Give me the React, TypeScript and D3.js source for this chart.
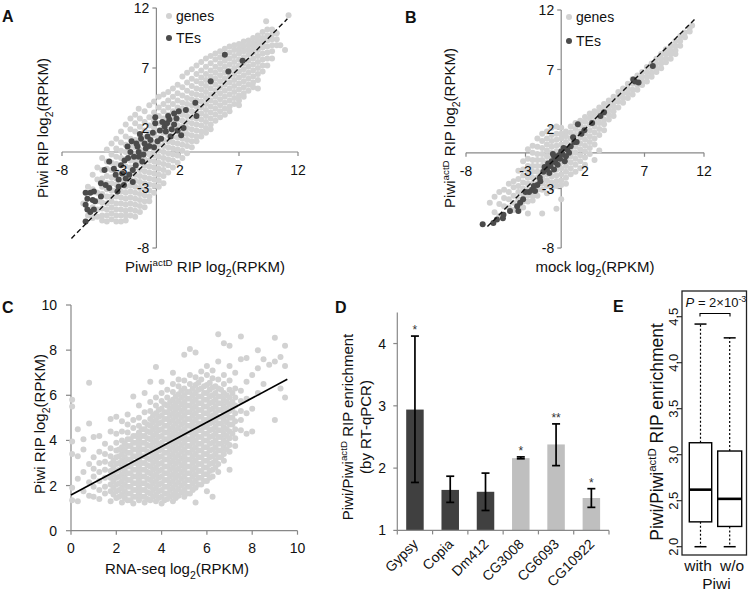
import React from "react";
import * as d3 from "d3";

const FONT = "'Liberation Sans', Arial, sans-serif";
const GENE = "#d2d2d2";
const TE = "#4b4b4b";
const AXIS = "#888888";
const R = 3.0;

type Col = [number, number[]];
type Pt = [number, number];

// ---------- Panel A: Piwi RIP vs Piwi(actD) RIP ----------
const scatterTicks = [-8, -3, 2, 7, 12];
const genesA: Col[] = [
  [-6.2, [-4.3]],
  [-5.8, [-2.9, -5.3]],
  [-5.4, [-1.9, -3.1, -4.6, -5.5]],
  [-5.0, [-1.3, -2.3, -3.4, -4.1, -4.8, -5.4]],
  [-4.6, [-0.5, -1.5, -2.2, -2.9, -3.5, -4.2, -4.7, -5.3, -5.7]],
  [-4.2, [0.2, -0.8, -1.4, -2.0, -2.6, -3.1, -3.7, -4.3, -4.8, -5.3, -5.8]],
  [-3.8, [0.7, -0.2, -0.9, -1.5, -2.1, -2.6, -3.2, -3.7, -4.1, -4.6, -5.1, -5.6]],
  [-3.4, [1.1, 0.3, -0.4, -1.0, -1.6, -2.2, -2.7, -3.2, -3.7, -4.3, -4.8, -5.3, -5.8]],
  [-3.0, [1.7, 0.8, 0.1, -0.5, -1.1, -1.7, -2.3, -2.8, -3.3, -3.8, -4.3, -4.8, -5.3, -5.8]],
  [-2.6, [2.3, 1.3, 0.6, 0.0, -0.6, -1.2, -1.8, -2.4, -2.9, -3.4, -3.9, -4.4, -4.9, -5.3, -5.7]],
  [-2.2, [2.8, 1.9, 1.1, 0.5, -0.1, -0.7, -1.3, -1.8, -2.3, -2.8, -3.3, -3.8, -4.3, -4.8, -5.3]],
  [-1.8, [3.1, 2.4, 1.7, 1.0, 0.4, -0.2, -0.8, -1.3, -1.9, -2.4, -2.9, -3.4, -3.9, -4.4, -4.9, -5.4]],
  [-1.5, [3.6]],
  [-1.4, [2.8, 2.1, 1.4, 0.8, 0.2, -0.4, -0.9, -1.5, -2.0, -2.5, -3.0, -3.5, -4.0, -4.5, -5.0]],
  [-1.0, [3.4, 2.5, 1.8, 1.2, 0.6, 0.0, -0.6, -1.1, -1.6, -2.1, -2.6, -3.1, -3.6, -4.1, -4.6]],
  [-0.6, [3.9, 2.9, 2.2, 1.6, 1.0, 0.4, -0.2, -0.7, -1.2, -1.7, -2.2, -2.7, -3.2, -3.7, -4.1]],
  [-0.2, [4.2, 3.3, 2.6, 2.0, 1.4, 0.8, 0.2, -0.3, -0.8, -1.3, -1.8, -2.3, -2.8, -3.4]],
  [0.2, [4.6, 3.7, 3.0, 2.4, 1.8, 1.2, 0.6, 0.1, -0.4, -0.9, -1.4, -1.9, -2.4, -2.9]],
  [0.6, [4.8, 4.0, 3.4, 2.8, 2.2, 1.6, 1.0, 0.5, 0.0, -0.5, -1.0, -1.5, -2.0, -2.6]],
  [1.0, [5.0, 4.3, 3.7, 3.1, 2.5, 1.9, 1.4, 0.9, 0.4, -0.1, -0.6, -1.1, -1.7]],
  [1.4, [5.3, 4.6, 4.0, 3.4, 2.8, 2.3, 1.8, 1.3, 0.8, 0.3, -0.2, -0.7, -1.3]],
  [1.8, [5.6, 4.9, 4.3, 3.7, 3.2, 2.7, 2.2, 1.7, 1.2, 0.7, 0.2, -0.3, -0.9]],
  [2.2, [6.3, 5.4, 4.7, 4.1, 3.6, 3.1, 2.6, 2.1, 1.6, 1.1, 0.6, 0.1, -0.5]],
  [2.6, [6.6, 5.8, 5.1, 4.5, 4.0, 3.5, 3.0, 2.5, 2.0, 1.5, 1.0, 0.5, -0.1]],
  [3.0, [6.9, 6.1, 5.5, 4.9, 4.4, 3.9, 3.4, 2.9, 2.4, 1.9, 1.4, 0.9, 0.4]],
  [3.4, [7.2, 6.5, 5.9, 5.3, 4.8, 4.3, 3.8, 3.3, 2.8, 2.3, 1.8, 1.3, 0.9]],
  [3.8, [7.5, 6.8, 6.2, 5.7, 5.2, 4.7, 4.2, 3.7, 3.2, 2.7, 2.2, 1.7, 1.3]],
  [4.2, [7.8, 7.1, 6.5, 6.0, 5.5, 5.0, 4.5, 4.0, 3.5, 3.0, 2.5, 2.0, 1.6]],
  [4.6, [8.0, 7.4, 6.8, 6.3, 5.8, 5.3, 4.8, 4.3, 3.8, 3.3, 2.8, 2.3, 1.9]],
  [5.0, [8.2, 7.7, 7.1, 6.6, 6.1, 5.6, 5.1, 4.6, 4.1, 3.6, 3.1, 2.6]],
  [5.4, [8.4, 7.9, 7.4, 6.9, 6.4, 5.9, 5.4, 4.9, 4.4, 3.9, 3.4, 2.9]],
  [5.8, [8.6, 8.1, 7.6, 7.1, 6.6, 6.1, 5.6, 5.1, 4.6, 4.1, 3.6, 3.1]],
  [6.2, [8.8, 8.3, 7.8, 7.3, 6.8, 6.3, 5.8, 5.3, 4.8, 4.3, 3.8, 3.4]],
  [6.6, [8.9, 8.5, 8.0, 7.5, 7.0, 6.5, 6.0, 5.5, 5.0, 4.5, 4.0]],
  [7.0, [9.0, 8.6, 8.2, 7.7, 7.2, 6.7, 6.2, 5.7, 5.2, 4.7, 4.3, 3.9]],
  [7.4, [9.2, 8.8, 8.4, 7.9, 7.4, 6.9, 6.4, 5.9, 5.4, 4.9, 4.6]],
  [7.8, [9.3, 8.9, 8.5, 8.1, 7.6, 7.1, 6.6, 6.1, 5.6, 5.1]],
  [8.2, [9.5, 9.1, 8.7, 8.3, 7.8, 7.3, 6.8, 6.3, 5.8, 5.4]],
  [8.6, [9.7, 9.3, 8.9, 8.5, 8.0, 7.5, 7.0, 6.5, 6.0, 5.3]],
  [9.0, [10.0, 9.5, 9.1, 8.7, 8.2, 7.7, 7.2, 6.7]],
  [9.3, [10.9]],
  [9.4, [10.2, 9.7, 9.3, 8.8, 8.3, 7.8, 7.2]],
  [9.8, [10.2, 9.8, 9.4, 8.9, 8.4, 7.8]],
  [10.2, [9.9, 9.4, 8.9]],
  [10.5, [8.9]],
  [10.9, [8.5]],
  [11.2, [11.4]],
];
const tesA: Pt[] = [
  [5.8, 8.1], [7.3, 7.6], [6.1, 6.7], [4.6, 5.9], [3.3, 4.1], [2.5, 3.5], [1.9, 3.4], [3.4, 3.0],
  [1.5, 3.2], [1.7, 2.8], [1.0, 3.0], [1.1, 2.7], [-0.1, 2.9], [-0.1, 2.4], [0.7, 2.1], [0.8, 1.7],
  [1.5, 2.3], [1.8, 1.8], [2.1, 1.4], [1.2, 1.3], [0.4, 1.1], [0.1, 0.9], [-0.75, 1.3], [-0.5, 1.0],
  [-1.0, 0.7], [-0.9, 0.3], [-1.7, 0.7], [-1.6, 0.45], [-1.5, 0.0], [-2.45, 0.45], [-2.2, 0.0],
  [-1.9, -0.4], [-1.5, -0.4], [-1.2, -0.8], [-1.75, -1.1], [-2.0, -1.5], [-2.3, -1.9], [-2.7, -0.7],
  [-3.0, -1.1], [-2.9, -1.8], [-2.6, -2.2], [-3.2, -2.3], [-3.45, -1.9], [-2.75, -2.75], [-3.2, -2.9],
  [-3.3, -3.3], [-4.4, -1.5], [-4.7, -2.6], [-4.3, -2.75], [-4.0, -3.0], [-4.0, -0.8], [-5.6, -3.4],
  [-5.85, -3.9], [-5.3, -3.3], [-5.4, -4.0], [-6.0, -4.4], [-5.85, -4.8], [-5.6, -5.0], [-5.3, -4.8],
  [-6.0, -5.8], [-6.0, -3.4], [-5.2, -4.1], [-4.7, -3.7], [-0.3, 1.6], [0.3, 1.8], [0.5, 2.5],
  [-0.6, 0.5], [-1.3, 1.1], [-2.1, 0.9], [-1.1, -0.2], [-2.4, -0.5], [-0.2, 0.4], [0.9, 2.4],
  [1.3, 1.9], [2.3, 2.0], [-3.6, -1.4], [-2.0, -2.5], [-1.4, 1.5],
];

// ---------- Panel B: Piwi(actD) RIP vs mock ----------
const genesB: Col[] = [
  [-6.0, [-4.2]],
  [-5.6, [-3.7, -5.0]],
  [-5.2, [-3.3, -4.3, -5.3]],
  [-4.8, [-3.1, -3.8, -4.5]],
  [-4.4, [-2.6, -3.3, -3.9, -4.6]],
  [-4.0, [-2.4, -2.9, -3.6, -4.2, -4.8]],
  [-3.6, [-1.5, -2.2, -2.8, -3.3, -3.9, -4.4]],
  [-3.2, [-0.7, -1.4, -1.9, -2.5, -3.0, -3.5, -4.1, -4.6]],
  [-2.8, [0.3, -0.5, -1.1, -1.6, -2.1, -2.6, -3.1, -3.6, -4.1, -5.1]],
  [-2.4, [0.6, 0.0, -0.6, -1.1, -1.6, -2.1, -2.6, -3.1, -3.6, -4.0]],
  [-2.0, [1.2, 0.5, -0.1, -0.6, -1.1, -1.6, -2.1, -2.6, -3.1, -3.6]],
  [-1.6, [1.6, 1.0, 0.4, -0.1, -0.6, -1.1, -1.6, -2.1, -2.6, -3.1, -5.1]],
  [-1.2, [1.8, 1.2, 0.7, 0.2, -0.3, -0.8, -1.3, -1.8, -2.3, -2.8, -3.4]],
  [-0.8, [2.1, 1.5, 1.0, 0.5, 0.0, -0.5, -1.0, -1.5, -2.0, -2.5, -3.0]],
  [-0.4, [2.2, 1.6, 1.1, 0.6, 0.1, -0.4, -0.9, -1.4, -1.9, -2.4, -2.8, -4.7]],
  [0.0, [2.1, 1.6, 1.2, 0.7, 0.2, -0.3, -0.8, -1.3, -1.8, -2.3, -2.7, -3.9]],
  [0.4, [1.8, 1.4, 0.9, 0.4, -0.1, -0.6, -1.1, -1.6, -2.1, -2.6]],
  [0.8, [2.2, 1.7, 1.2, 0.7, 0.2, -0.3, -0.8, -1.3, -1.8]],
  [1.2, [2.5, 2.0, 1.5, 1.0, 0.5, 0.0, -0.5, -1.0, -1.6]],
  [1.6, [2.7, 2.3, 1.8, 1.3, 0.8, 0.3, -0.2, -0.7, -1.3]],
  [2.0, [3.0, 2.6, 2.1, 1.6, 1.1, 0.6, 0.1, -0.4, -1.0]],
  [2.4, [3.3, 2.9, 2.4, 1.9, 1.4, 0.9, 0.4, -0.1]],
  [2.8, [3.5, 3.1, 2.6, 2.2, 1.7, 1.2, 0.7, -0.6]],
  [3.2, [3.8, 3.4, 2.9, 2.5, 2.0, 1.5, 0.2]],
  [3.6, [4.1, 3.7, 3.3, 2.8, 2.4, 1.9]],
  [4.0, [4.4, 4.0, 3.6, 3.2, 2.8]],
  [4.4, [4.7, 4.3, 3.9, 3.5, 3.1]],
  [4.8, [5.1, 4.7, 4.3, 3.8]],
  [5.2, [5.4, 5.0, 4.6, 4.2]],
  [5.6, [5.8, 5.4, 5.0, 4.6]],
  [6.0, [6.2, 5.8, 5.3, 4.9]],
  [6.4, [6.5, 6.1, 5.7, 5.3]],
  [6.8, [6.8, 6.4, 6.0, 5.7]],
  [7.2, [7.2, 6.8, 6.4, 6.0]],
  [7.6, [7.5, 7.1, 6.7, 6.4]],
  [8.0, [7.9, 7.5, 7.1, 6.8]],
  [8.4, [8.3, 7.9, 7.5, 7.1]],
  [8.8, [8.7, 8.3, 7.9, 7.6]],
  [9.2, [9.0, 8.6, 8.3, 7.9]],
  [9.6, [9.4, 9.0, 8.6, 8.3]],
  [10.0, [9.8, 9.4, 9.0]],
  [10.4, [10.1, 9.7]],
  [10.8, [10.5, 10.2]],
  [11.0, [10.7]],
];
const tesB: Pt[] = [
  [7.7, 7.3], [6.2, 6.0], [6.5, 5.9], [6.06, 6.16], [3.6, 3.4], [3.3, 3.1], [1.4, 2.4], [1.95, 1.9],
  [1.7, 1.6], [0.8, 0.55], [0.5, 0.3], [0.66, 0.0], [0.4, -0.3], [0.2, 0.4], [0.0, 0.1], [-0.2, -0.2],
  [-0.4, -0.5], [-0.6, -0.3], [-0.5, -0.8], [-0.8, -0.7], [-0.9, -1.1], [-1.1, -0.9], [-1.2, -1.4],
  [-1.4, -1.2], [-0.3, -1.0], [-1.0, -1.7], [-1.5, -1.6], [1.1, 0.9], [0.3, -0.7], [-0.1, -0.5],
  [1.0, 1.3], [1.3, 0.9], [-1.75, -2.4], [-2.0, -2.7], [-2.3, -2.8], [-2.45, -3.1], [-2.2, -3.2],
  [-1.8, -2.1], [-3.2, -3.9], [-3.45, -4.2], [-3.7, -4.5], [-3.6, -4.9], [-4.3, -4.9], [-4.85, -5.2],
  [-4.9, -5.5], [-5.4, -5.6], [-5.7, -5.9], [-6.6, -6.0], [-2.7, -3.3], [-3.0, -3.3], [-0.6, -1.4],
  [2.6, 2.5], [0.1, -0.1], [-0.7, -0.1],
];

// ---------- Panel C: Piwi RIP vs RNA-seq ----------
const cTicks = [0, 2, 4, 6, 8, 10];
const genesC: Col[] = [
  [0.05, [1.35, 1.9, 3.4, 3.95, 5.5, 5.8]],
  [0.3, [1.3, 2.3, 3.3, 4.5]],
  [0.55, [1.75, 2.6, 3.6, 4.05]],
  [0.8, [1.55, 2.15, 2.95, 4.75, 6.55]],
  [1.0, [1.5, 1.95, 2.4, 2.75, 3.25, 4.15]],
  [1.25, [1.4, 1.8, 2.2, 2.6, 3.0, 3.5, 4.2]],
  [1.5, [1.65, 1.95, 2.35, 2.7, 3.05, 3.4, 3.85]],
  [1.75, [1.3, 1.75, 2.05, 2.35, 2.65, 2.95, 3.3, 3.65, 4.4, 4.95]],
  [1.875, [1.6, 1.9, 2.2, 2.5, 2.8, 3.1]],
  [2.0, [1.45, 1.75, 2.05, 2.35, 2.65, 2.95, 3.25, 3.55, 3.9, 4.3, 5.05]],
  [2.125, [1.5, 1.8, 2.1, 2.4, 2.7, 3.0, 3.3, 3.6]],
  [2.25, [1.25, 1.6, 1.9, 2.2, 2.5, 2.8, 3.1, 3.4, 3.7, 4.0, 4.4, 4.85]],
  [2.375, [1.45, 1.75, 2.05, 2.35, 2.65, 2.95, 3.25, 3.55, 3.85]],
  [2.5, [1.35, 1.65, 1.95, 2.25, 2.55, 2.85, 3.15, 3.45, 3.75, 4.05, 4.35, 4.7, 5.15]],
  [2.625, [1.35, 1.65, 1.95, 2.25, 2.55, 2.85, 3.15, 3.45, 3.75, 4.05]],
  [2.75, [1.2, 1.5, 1.8, 2.1, 2.4, 2.7, 3.0, 3.3, 3.6, 3.9, 4.2, 4.55, 4.9, 5.95]],
  [2.875, [1.5, 1.8, 2.1, 2.4, 2.7, 3.0, 3.3, 3.6, 3.9, 4.2]],
  [3.0, [1.35, 1.65, 1.95, 2.25, 2.55, 2.85, 3.15, 3.45, 3.75, 4.05, 4.35, 4.65, 5.0, 5.55]],
  [3.125, [1.5, 1.8, 2.1, 2.4, 2.7, 3.0, 3.3, 3.6, 3.9, 4.2, 4.5]],
  [3.25, [1.25, 1.5, 1.8, 2.1, 2.4, 2.7, 3.0, 3.3, 3.6, 3.9, 4.2, 4.5, 4.8, 5.25, 6.1]],
  [3.375, [1.4, 1.7, 2.0, 2.3, 2.6, 2.9, 3.2, 3.5, 3.8, 4.1, 4.4, 4.7]],
  [3.5, [1.35, 1.65, 1.95, 2.25, 2.55, 2.85, 3.15, 3.45, 3.75, 4.05, 4.35, 4.65, 4.95, 5.3, 5.7, 6.6]],
  [3.625, [1.5, 1.8, 2.1, 2.4, 2.7, 3.0, 3.3, 3.6, 3.9, 4.2, 4.5, 4.8, 5.1]],
  [3.75, [1.3, 1.6, 1.9, 2.2, 2.5, 2.8, 3.1, 3.4, 3.7, 4.0, 4.3, 4.6, 4.9, 5.2, 5.55, 5.9, 7.25]],
  [3.875, [1.45, 1.75, 2.05, 2.35, 2.65, 2.95, 3.25, 3.55, 3.85, 4.15, 4.45, 4.75, 5.05, 5.35]],
  [4.0, [1.2, 1.5, 1.8, 2.1, 2.4, 2.7, 3.0, 3.3, 3.6, 3.9, 4.2, 4.5, 4.8, 5.1, 5.4, 5.75, 6.1, 6.6]],
  [4.125, [1.35, 1.65, 1.95, 2.25, 2.55, 2.85, 3.15, 3.45, 3.75, 4.05, 4.35, 4.65, 4.95, 5.25, 5.6]],
  [4.25, [1.4, 1.65, 1.95, 2.25, 2.55, 2.85, 3.15, 3.45, 3.75, 4.05, 4.35, 4.65, 4.95, 5.25, 5.55, 5.9, 6.25]],
  [4.375, [1.5, 1.8, 2.1, 2.4, 2.7, 3.0, 3.3, 3.6, 3.9, 4.2, 4.5, 4.8, 5.1, 5.4, 5.7]],
  [4.5, [1.3, 1.6, 1.9, 2.2, 2.5, 2.8, 3.1, 3.4, 3.7, 4.0, 4.3, 4.6, 4.9, 5.2, 5.5, 5.8, 6.15, 6.5, 7.0]],
  [4.625, [1.45, 1.75, 2.05, 2.35, 2.65, 2.95, 3.25, 3.55, 3.85, 4.15, 4.45, 4.75, 5.05, 5.35, 5.65, 5.95]],
  [4.75, [1.55, 1.85, 2.15, 2.45, 2.75, 3.05, 3.35, 3.65, 3.95, 4.25, 4.55, 4.85, 5.15, 5.45, 5.75, 6.05, 6.4, 6.7]],
  [4.875, [1.7, 2.0, 2.3, 2.6, 2.9, 3.2, 3.5, 3.8, 4.1, 4.4, 4.7, 5.0, 5.3, 5.6, 5.9, 6.2]],
  [5.0, [1.5, 1.8, 2.1, 2.4, 2.7, 3.0, 3.3, 3.6, 3.9, 4.2, 4.5, 4.8, 5.1, 5.4, 5.7, 6.0, 6.3, 6.65, 7.8]],
  [5.125, [1.65, 1.95, 2.25, 2.55, 2.85, 3.15, 3.45, 3.75, 4.05, 4.35, 4.65, 4.95, 5.25, 5.55, 5.85, 6.15]],
  [5.25, [1.65, 1.95, 2.25, 2.55, 2.85, 3.15, 3.45, 3.75, 4.05, 4.35, 4.65, 4.95, 5.25, 5.55, 5.85, 6.15, 6.5, 6.9, 8.05]],
  [5.375, [1.8, 2.1, 2.4, 2.7, 3.0, 3.3, 3.6, 3.9, 4.2, 4.5, 4.8, 5.1, 5.4, 5.7, 6.0, 6.3]],
  [5.5, [1.25, 1.9, 2.2, 2.5, 2.8, 3.1, 3.4, 3.7, 4.0, 4.3, 4.6, 4.9, 5.2, 5.5, 5.8, 6.1, 6.45, 6.8, 7.9]],
  [5.625, [2.05, 2.35, 2.65, 2.95, 3.25, 3.55, 3.85, 4.15, 4.45, 4.75, 5.05, 5.35, 5.65, 5.95, 6.25, 6.55]],
  [5.75, [2.05, 2.35, 2.65, 2.95, 3.25, 3.55, 3.85, 4.15, 4.45, 4.75, 5.05, 5.35, 5.65, 5.95, 6.3, 6.7, 7.05]],
  [5.875, [2.2, 2.5, 2.8, 3.1, 3.4, 3.7, 4.0, 4.3, 4.6, 4.9, 5.2, 5.5, 5.8, 6.1, 6.4]],
  [6.0, [1.75, 2.2, 2.5, 2.8, 3.1, 3.4, 3.7, 4.0, 4.3, 4.6, 4.9, 5.2, 5.5, 5.8, 6.1, 6.45, 6.9, 7.3]],
  [6.125, [2.35, 2.65, 2.95, 3.25, 3.55, 3.85, 4.15, 4.45, 4.75, 5.05, 5.35, 5.65, 5.95, 6.25, 6.55]],
  [6.25, [1.5, 2.4, 2.7, 3.0, 3.3, 3.6, 3.9, 4.2, 4.5, 4.8, 5.1, 5.4, 5.7, 6.0, 6.35, 6.75, 7.1]],
  [6.375, [2.8, 3.1, 3.4, 3.7, 4.0, 4.3, 4.6, 4.9, 5.2, 5.5, 5.8, 6.1, 6.4]],
  [6.5, [2.6, 2.95, 3.25, 3.55, 3.85, 4.15, 4.45, 4.75, 5.05, 5.35, 5.65, 5.95, 6.3, 6.7, 7.5, 8.7]],
  [6.625, [3.25, 3.55, 3.85, 4.15, 4.45, 4.75, 5.05, 5.35, 5.65, 5.95, 6.25]],
  [6.75, [3.1, 3.4, 3.7, 4.0, 4.3, 4.6, 4.9, 5.2, 5.5, 5.8, 6.1, 6.5, 6.9, 8.3]],
  [6.875, [3.6, 3.9, 4.2, 4.5, 4.8, 5.1, 5.4, 5.7, 6.0]],
  [7.0, [2.7, 3.5, 3.8, 4.1, 4.4, 4.7, 5.0, 5.3, 5.6, 5.9, 6.25, 6.65, 7.3, 8.2]],
  [7.125, [4.3, 4.7, 5.0, 5.4, 5.7, 6.1]],
  [7.25, [3.75, 4.1, 4.5, 4.85, 5.2, 5.55, 5.9, 6.3, 7.0]],
  [7.5, [4.45, 4.9, 5.3, 5.75, 6.2, 7.6, 8.6]],
  [7.75, [4.3, 5.2, 5.85, 6.6, 7.65]],
  [8.0, [4.4, 5.4, 6.9]],
  [8.25, [6.1, 7.2, 8.0]],
  [8.5, [6.5, 7.6]],
  [8.75, [7.35]],
  [9.0, [4.9, 7.5, 8.55]],
  [9.25, [6.3, 7.7]],
  [9.45, [5.9, 7.3, 8.2]],
];
const cFitStart: Pt = [0, 1.58];
const cFitEnd: Pt = [9.55, 6.71];

// ---------- Panel D: RT-qPCR ----------
const qpcrCategories = ["Gypsy", "Copia", "Dm412", "CG3008", "CG6093", "CG10922"];
const qpcrValues = [2.94, 1.65, 1.62, 2.16, 2.38, 1.52];
const qpcrLow = [1.77, 1.45, 1.32, 2.15, 2.04, 1.37];
const qpcrHigh = [4.12, 1.87, 1.92, 2.18, 2.71, 1.67];
const qpcrStars = ["*", "", "", "*", "**", "*"];
const qpcrIsTE = [true, true, true, false, false, false];
const qpcrTicks = [1, 2, 3, 4];

// ---------- Panel E: boxplot ----------
const boxGroups = ["with", "w/o"];
const boxMin = [2.0, 2.0];
const boxQ1 = [2.27, 2.22];
const boxMedian = [2.62, 2.52];
const boxQ3 = [3.13, 3.04];
const boxMax = [4.42, 4.27];
const boxTicks = [2.0, 2.5, 3.0, 3.5, 4.0, 4.5];

const flat = (cols: Col[]): Pt[] => cols.flatMap(([x, ys]) => ys.map((y) => [x, y] as Pt));

const Log2 = ({ size }: { size: number }) => (
  <>
    <tspan>log</tspan>
    <tspan dy={size * 0.3} fontSize={size * 0.7}>2</tspan>
    <tspan dy={-size * 0.3}>(RPKM)</tspan>
  </>
);
const PiwiActD = ({ size, pre = "Piwi" }: { size: number; pre?: string }) => (
  <>
    <tspan>{pre}</tspan>
    <tspan dy={-size * 0.38} fontSize={size * 0.65}>actD</tspan>
    <tspan dy={size * 0.38}> </tspan>
  </>
);

function ScatterPanel(props: {
  genes: Pt[]; tes: Pt[]; xr: [number, number]; yr: [number, number]; diag: [number, number];
  legendX: number; legendY: [number, number];
  yTitle: React.ReactNode; yTitlePos: [number, number]; xTitle: React.ReactNode; xTitlePos: [number, number];
}) {
  const x = d3.scaleLinear().domain([-8, 12]).range(props.xr);
  const y = d3.scaleLinear().domain([-8, 12]).range(props.yr);
  const x0 = x(0), y0 = y(0);
  return (
    <g>
      <line x1={x(-8)} x2={x(12)} y1={y0} y2={y0} stroke={AXIS} strokeWidth={1.2} />
      <line x1={x0} x2={x0} y1={y(-8)} y2={y(12)} stroke={AXIS} strokeWidth={1.2} />
      {scatterTicks.map((t) => (
        <line key={"xt" + t} x1={x(t)} x2={x(t)} y1={y0} y2={y0 + 4} stroke={AXIS} strokeWidth={1.2} />
      ))}
      {scatterTicks.map((t) => (
        <line key={"yt" + t} x1={x0 - 4} x2={x0} y1={y(t)} y2={y(t)} stroke={AXIS} strokeWidth={1.2} />
      ))}
      {props.genes.map(([a, b], i) => (
        <circle key={"g" + i} cx={x(a)} cy={y(b)} r={R} fill={GENE} />
      ))}
      {props.tes.map(([a, b], i) => (
        <circle key={"t" + i} cx={x(a)} cy={y(b)} r={R} fill={TE} />
      ))}
      <line x1={x(props.diag[0])} y1={y(props.diag[0])} x2={x(props.diag[1])} y2={y(props.diag[1])}
        stroke="#111" strokeWidth={1.4} strokeDasharray="5,3" />
      {scatterTicks.map((t) => (
        <text key={"xl" + t} x={x(t)} y={y0 + 23} textAnchor="middle" fontSize={14}>{t}</text>
      ))}
      {scatterTicks.map((t) => (
        <text key={"yl" + t} x={x0 - 7} y={y(t) + 5} textAnchor="end" fontSize={14}>{t}</text>
      ))}
      <circle cx={props.legendX} cy={props.legendY[0]} r={R} fill={GENE} />
      <circle cx={props.legendX} cy={props.legendY[1]} r={R} fill={TE} />
      <text x={props.legendX + 7} y={props.legendY[0] + 5} fontSize={14}>genes</text>
      <text x={props.legendX + 7} y={props.legendY[1] + 5} fontSize={14}>TEs</text>
      <text transform={`translate(${props.yTitlePos[0]},${props.yTitlePos[1]}) rotate(-90)`} textAnchor="middle" fontSize={15}>
        {props.yTitle}
      </text>
      <text x={props.xTitlePos[0]} y={props.xTitlePos[1]} textAnchor="middle" fontSize={15}>
        {props.xTitle}
      </text>
    </g>
  );
}

function PanelC() {
  const x = d3.scaleLinear().domain([0, 10]).range([71, 297.5]);
  const y = d3.scaleLinear().domain([0, 10]).range([530.7, 305]);
  const pts = flat(genesC);
  return (
    <g>
      <line x1={x(0)} x2={x(10)} y1={y(0)} y2={y(0)} stroke={AXIS} strokeWidth={1.2} />
      <line x1={x(0)} x2={x(0)} y1={y(0)} y2={y(10)} stroke={AXIS} strokeWidth={1.2} />
      {cTicks.map((t) => (
        <line key={"cx" + t} x1={x(t)} x2={x(t)} y1={y(0)} y2={y(0) + 4} stroke={AXIS} strokeWidth={1.2} />
      ))}
      {cTicks.map((t) => (
        <line key={"cy" + t} x1={x(0) - 5} x2={x(0)} y1={y(t)} y2={y(t)} stroke={AXIS} strokeWidth={1.2} />
      ))}
      {pts.map(([a, b], i) => (
        <circle key={i} cx={x(a)} cy={y(b)} r={R} fill={GENE} />
      ))}
      <line x1={x(cFitStart[0])} y1={y(cFitStart[1])} x2={x(cFitEnd[0])} y2={y(cFitEnd[1])} stroke="#000" strokeWidth={1.6} />
      {cTicks.map((t) => (
        <text key={"cxl" + t} x={x(t)} y={553} textAnchor="middle" fontSize={14}>{t}</text>
      ))}
      {cTicks.map((t) => (
        <text key={"cyl" + t} x={57} y={y(t) + 5} textAnchor="end" fontSize={14}>{t}</text>
      ))}
      <text transform="translate(45,424) rotate(-90)" textAnchor="middle" fontSize={15}>
        <tspan>Piwi RIP </tspan><Log2 size={15} />
      </text>
      <text x={177} y={574} textAnchor="middle" fontSize={15}>
        <tspan>RNA-seq </tspan><Log2 size={15} />
      </text>
    </g>
  );
}

function PanelD() {
  const x = d3.scaleBand<string>().domain(qpcrCategories).range([397.3, 609]);
  const y = d3.scaleLinear().domain([1, 4.5]).range([530.4, 312.4]);
  const bw = 17.5;
  return (
    <g>
      {qpcrCategories.map((c, i) => {
        const cx = (x(c) as number) + x.bandwidth() / 2;
        return (
          <g key={c}>
            <rect x={cx - bw / 2} y={y(qpcrValues[i])} width={bw} height={y(1) - y(qpcrValues[i])}
              fill={qpcrIsTE[i] ? "#404040" : "#bfbfbf"} />
            <line x1={cx} x2={cx} y1={y(qpcrHigh[i])} y2={y(qpcrLow[i])} stroke="#000" strokeWidth={1.7} />
            <line x1={cx - 4} x2={cx + 4} y1={y(qpcrHigh[i])} y2={y(qpcrHigh[i])} stroke="#000" strokeWidth={1.7} />
            <line x1={cx - 4} x2={cx + 4} y1={y(qpcrLow[i])} y2={y(qpcrLow[i])} stroke="#000" strokeWidth={1.7} />
            {qpcrStars[i] && (
              <text x={cx} y={y(qpcrHigh[i]) - 2} textAnchor="middle" fontSize={12} fill="#333">{qpcrStars[i]}</text>
            )}
            <text transform={`translate(${cx + 4},545) rotate(-45)`} textAnchor="end" fontSize={14}>{c}</text>
          </g>
        );
      })}
      <line x1={397.3} x2={397.3} y1={y(1)} y2={y(4.5)} stroke={AXIS} strokeWidth={1.2} />
      <line x1={397.3} x2={609} y1={y(1)} y2={y(1)} stroke={AXIS} strokeWidth={1.2} />
      {qpcrTicks.map((t) => (
        <g key={"dt" + t}>
          <line x1={393.3} x2={397.3} y1={y(t)} y2={y(t)} stroke={AXIS} strokeWidth={1.2} />
          <text x={386} y={y(t) + 5} textAnchor="end" fontSize={14}>{t}</text>
        </g>
      ))}
      {[...qpcrCategories.map((c) => x(c) as number), 609].map((v, i) => (
        <line key={"db" + i} x1={v} x2={v} y1={y(1)} y2={y(1) + 4} stroke={AXIS} strokeWidth={1.2} />
      ))}
      <text transform="translate(353,427) rotate(-90)" textAnchor="middle" fontSize={15}>
        <PiwiActD size={15} pre="Piwi/Piwi" /><tspan>RIP enrichment</tspan>
      </text>
      <text transform="translate(371,427) rotate(-90)" textAnchor="middle" fontSize={15}>(by RT-qPCR)</text>
    </g>
  );
}

function PanelE() {
  const y = d3.scaleLinear().domain([2, 4.5]).range([546.7, 316.7]);
  const x = d3.scalePoint<string>().domain(boxGroups).range([700.5, 729.7]);
  const widths = [22.4, 24];
  return (
    <g>
      <rect x={682} y={291} width={64.5} height={264} fill="none" stroke="#222" strokeWidth={1.3} />
      {boxTicks.map((t) => (
        <g key={"et" + t}>
          <line x1={677} x2={682} y1={y(t)} y2={y(t)} stroke="#222" strokeWidth={1.1} />
          <text transform={`translate(678,${y(t)}) rotate(-90)`} textAnchor="middle" fontSize={13}>{t.toFixed(1)}</text>
        </g>
      ))}
      {boxGroups.map((g, i) => {
        const cx = x(g) as number;
        const w = widths[i];
        return (
          <g key={g}>
            <line x1={cx} x2={cx} y1={y(boxQ3[i])} y2={y(boxMax[i])} stroke="#000" strokeWidth={1.2} strokeDasharray="2,2" />
            <line x1={cx} x2={cx} y1={y(boxQ1[i])} y2={y(boxMin[i])} stroke="#000" strokeWidth={1.2} strokeDasharray="2,2" />
            <line x1={cx - 6} x2={cx + 6} y1={y(boxMax[i])} y2={y(boxMax[i])} stroke="#000" strokeWidth={1.5} />
            <line x1={cx - 6} x2={cx + 6} y1={y(boxMin[i])} y2={y(boxMin[i])} stroke="#000" strokeWidth={1.5} />
            <rect x={cx - w / 2} y={y(boxQ3[i])} width={w} height={y(boxQ1[i]) - y(boxQ3[i])} fill="#fff" stroke="#000" strokeWidth={1.4} />
            <line x1={cx - w / 2} x2={cx + w / 2} y1={y(boxMedian[i])} y2={y(boxMedian[i])} stroke="#000" strokeWidth={2.6} />
          </g>
        );
      })}
      <path d="M700,316.5V313.5H730V316.5" fill="none" stroke="#000" strokeWidth={1.1} />
      <text x={716} y={307} textAnchor="middle" fontSize={13}>
        <tspan fontStyle="italic">P</tspan><tspan> = 2×10</tspan>
        <tspan dy={-5} fontSize={9}>-3</tspan>
      </text>
      <text transform="translate(663,432) rotate(-90)" textAnchor="middle" fontSize={17.5}>
        <PiwiActD size={17.5} pre="Piwi/Piwi" /><tspan>RIP enrichment</tspan>
      </text>
      <text x={698} y={571} textAnchor="middle" fontSize={15.5}>{boxGroups[0]}</text>
      <text x={732} y={571} textAnchor="middle" fontSize={15.5}>{boxGroups[1]}</text>
      <text x={716.5} y={588.5} textAnchor="middle" fontSize={15.5}>Piwi</text>
    </g>
  );
}

export default function App() {
  const gA = flat(genesA);
  const gB = flat(genesB);
  return (
    <svg width={748} height={592} style={{ position: "absolute", left: 0, top: 0, background: "#fff" }}
      fontFamily={FONT} fill="#111">
      <rect width={748} height={592} fill="#fff" />
      <ScatterPanel genes={gA} tes={tesA} xr={[62, 298]} yr={[248, 8]} diag={[-7.2, 11.1]}
        legendX={169} legendY={[16, 38]}
        yTitle={<><tspan>Piwi RIP </tspan><Log2 size={15} /></>} yTitlePos={[48, 128]}
        xTitle={<><PiwiActD size={15} /><tspan>RIP </tspan><Log2 size={15} /></>} xTitlePos={[205, 272]} />
      <ScatterPanel genes={gB} tes={tesB} xr={[466, 704]} yr={[248, 10]} diag={[-6.2, 11.2]}
        legendX={569} legendY={[17, 41]}
        yTitle={<><PiwiActD size={15} /><tspan>RIP </tspan><Log2 size={15} /></>} yTitlePos={[455, 128]}
        xTitle={<><tspan>mock </tspan><Log2 size={15} /></>} xTitlePos={[595, 272]} />
      <PanelC />
      <PanelD />
      <PanelE />
      <text x={2} y={22} fontSize={16} fontWeight="bold">A</text>
      <text x={405} y={23} fontSize={16} fontWeight="bold">B</text>
      <text x={2} y={313} fontSize={16} fontWeight="bold">C</text>
      <text x={335} y={313} fontSize={16} fontWeight="bold">D</text>
      <text x={613} y={312} fontSize={16} fontWeight="bold">E</text>
    </svg>
  );
}
